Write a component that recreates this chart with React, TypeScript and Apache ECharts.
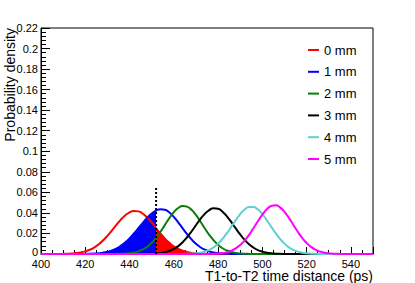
import React, { useEffect, useRef } from "react";
import * as echarts from "echarts";

// sample positions (ps)
const xs = [
  400, 402, 404, 406, 408, 410, 412, 414, 416, 418, 420, 422, 424, 426, 428, 430, 432, 434, 436, 438,
  440, 442, 444, 446, 448, 450, 452, 454, 456, 458, 460, 462, 464, 466, 468, 470, 472, 474, 476, 478,
  480, 482, 484, 486, 488, 490, 492, 494, 496, 498, 500, 502, 504, 506, 508, 510, 512, 514, 516, 518,
  520, 522, 524, 526, 528, 530, 532, 534, 536, 538, 540, 542, 544, 546, 548, 550,
];

const seriesNames = ["0 mm", "1 mm", "2 mm", "3 mm", "4 mm", "5 mm"];
const seriesColors = ["#ff0000", "#0000ff", "#0a7d0a", "#000000", "#5fcfcf", "#ff00ff"];

const mm0 = [
  0.000002, 0.000005, 0.000011, 0.000026, 0.000058, 0.00012, 0.00024, 0.00047, 0.00086, 0.00151,
  0.00255, 0.0041, 0.0063, 0.0093, 0.0131, 0.0177, 0.0228, 0.0281, 0.0332, 0.0375,
  0.0406, 0.0419, 0.0415, 0.0392, 0.0355, 0.0307, 0.0250, 0.0198, 0.015, 0.0109,
  0.0075, 0.005, 0.0031, 0.0019, 0.0011, 0.0006, 0.00032, 0.00016, 0.00008, 0.00004,
  0.00002, 0, 0, 0, 0, 0, 0, 0, 0, 0,
  0, 0, 0, 0, 0, 0, 0, 0, 0, 0,
  0, 0, 0, 0, 0, 0, 0, 0, 0, 0,
  0, 0, 0, 0, 0, 0,
];

const mm1 = [
  0, 0, 0, 0, 0, 0, 0.000005, 0.00001, 0.00003, 0.00006,
  0.00011, 0.00022, 0.00042, 0.00075, 0.0013, 0.0022, 0.0035, 0.0053, 0.0079, 0.0112,
  0.0152, 0.02, 0.0251, 0.0304, 0.0353, 0.0394, 0.0423, 0.0435, 0.043, 0.0404,
  0.0362, 0.0308, 0.025, 0.0193, 0.0142, 0.0099, 0.0066, 0.0042, 0.0025, 0.0014,
  0.0008, 0.0004, 0.0002, 0.0001, 0.00004, 0.00002, 0, 0, 0, 0,
  0, 0, 0, 0, 0, 0, 0, 0, 0, 0,
  0, 0, 0, 0, 0, 0, 0, 0, 0, 0,
  0, 0, 0, 0, 0, 0,
];

const mm2 = [
  0, 0, 0, 0, 0, 0, 0, 0, 0, 0,
  0, 0, 0, 0, 0.000005, 0.000012, 0.00003, 0.000075, 0.00017, 0.00036,
  0.00074, 0.0014, 0.0026, 0.0044, 0.0071, 0.0109, 0.0159, 0.0218, 0.0284, 0.0349,
  0.0407, 0.0448, 0.0467, 0.0461, 0.043, 0.038, 0.0317, 0.0251, 0.0187, 0.0133,
  0.0089, 0.0056, 0.0034, 0.0019, 0.001, 0.0005, 0.00025, 0.00011, 0.00005, 0.00002,
  0, 0, 0, 0, 0, 0, 0, 0, 0, 0,
  0, 0, 0, 0, 0, 0, 0, 0, 0, 0,
  0, 0, 0, 0, 0, 0,
];

const mm3 = [
  0, 0, 0, 0, 0, 0, 0, 0, 0, 0,
  0, 0, 0, 0, 0, 0, 0, 0, 0, 0,
  0.000003, 0.000008, 0.00002, 0.00005, 0.00011, 0.00024, 0.00048, 0.00093, 0.0017, 0.003,
  0.0049, 0.0077, 0.0115, 0.0163, 0.0219, 0.028, 0.034, 0.0391, 0.0428, 0.0445,
  0.044, 0.0412, 0.0367, 0.031, 0.0249, 0.019, 0.0138, 0.0095, 0.0062, 0.0038,
  0.0023, 0.0013, 0.00067, 0.00034, 0.00016, 0.00007, 0.00003, 0, 0, 0,
  0, 0, 0, 0, 0, 0, 0, 0, 0, 0,
  0, 0, 0, 0, 0, 0,
];

const mm4 = [
  0, 0, 0, 0, 0, 0, 0, 0, 0, 0,
  0, 0, 0, 0, 0, 0, 0, 0, 0, 0,
  0, 0, 0, 0, 0, 0, 0, 0, 0, 0.000004,
  0.000012, 0.00003, 0.00007, 0.00016, 0.00033, 0.00068, 0.0013, 0.0023, 0.004, 0.0065,
  0.0101, 0.0147, 0.0203, 0.0266, 0.033, 0.0389, 0.0433, 0.0457, 0.0457, 0.0433,
  0.0389, 0.033, 0.0266, 0.0203, 0.0147, 0.0101, 0.0065, 0.004, 0.0023, 0.0013,
  0.00068, 0.00033, 0.00016, 0.00007, 0.00003, 0.000012, 0, 0, 0, 0,
  0, 0, 0, 0, 0, 0,
];

const mm5 = [
  0, 0, 0, 0, 0, 0, 0, 0, 0, 0,
  0, 0, 0, 0, 0, 0, 0, 0, 0, 0,
  0, 0, 0, 0, 0, 0, 0, 0, 0, 0,
  0, 0, 0, 0, 0, 0.000006, 0.000017, 0.00004, 0.0001, 0.00022,
  0.00047, 0.00095, 0.0018, 0.0032, 0.0054, 0.0087, 0.0131, 0.0186, 0.0251, 0.0319,
  0.0383, 0.0435, 0.0467, 0.0474, 0.0454, 0.0411, 0.0352, 0.0285, 0.0217, 0.0157,
  0.0107, 0.0069, 0.0042, 0.0024, 0.0013, 0.00068, 0.00033, 0.00015, 0.00006, 0.00003,
  0.00001, 0, 0, 0, 0, 0,
];

const curves = [mm0, mm1, mm2, mm3, mm4, mm5];

// cut position and height of the dotted marker line
const cutX = 452;
const cutTop = 0.066;

const FONT = '"Liberation Sans", Arial, Helvetica, sans-serif';

export default function App() {
  const ref = useRef<HTMLDivElement>(null);

  useEffect(() => {
    const chart = echarts.init(ref.current!, null, { renderer: "svg" });
    const pairs = (ys: number[]) => xs.map((x, i) => [x, ys[i]]);
    const blueFill = pairs(mm1).filter((p) => p[0] <= cutX);
    const redFill = pairs(mm0).filter((p) => p[0] >= cutX);

    const lineSeries = curves.map((ys, k) => ({
      name: seriesNames[k],
      type: "line",
      data: pairs(ys),
      symbol: "none",
      smooth: true,
      color: seriesColors[k],
      lineStyle: { color: seriesColors[k], width: 2 },
      z: 3 + k * 0.01,
    }));

    const option: any = {
      animation: false,
      grid: {
        left: 41,
        right: 42,
        top: 28,
        bottom: 29,
        show: true,
        borderColor: "#000",
        borderWidth: 1,
        backgroundColor: "transparent",
      },
      legend: {
        data: seriesNames,
        orient: "vertical",
        left: 303,
        top: 38,
        icon: "rect",
        itemWidth: 11,
        itemHeight: 2,
        itemGap: 7.8,
        textStyle: { fontSize: 13, fontFamily: FONT, color: "#000", lineHeight: 14 },
      },
      xAxis: {
        type: "value",
        min: 400,
        max: 550,
        interval: 20,
        axisLine: { lineStyle: { color: "#000", width: 1 } },
        axisTick: { inside: true, length: 7, lineStyle: { color: "#000" } },
        minorTick: { show: true, splitNumber: 4, length: 4, lineStyle: { color: "#000" } },
        splitLine: { show: false },
        axisLabel: {
          margin: 4,
          fontSize: 11,
          lineHeight: 11,
          fontFamily: FONT,
          color: "#000",
          showMaxLabel: false,
        },
      },
      yAxis: {
        type: "value",
        min: 0,
        max: 0.22,
        interval: 0.02,
        axisLine: { show: true, lineStyle: { color: "#000", width: 1 } },
        axisTick: { inside: true, length: 9, lineStyle: { color: "#000" } },
        minorTick: { show: true, splitNumber: 5, length: 5, lineStyle: { color: "#000" } },
        splitLine: { show: false },
        axisLabel: {
          margin: 3,
          fontSize: 11,
          lineHeight: 10,
          fontFamily: FONT,
          color: "#000",
          formatter: (v: number) => (v === 0 ? "{z|0}" : String(+v.toFixed(2))),
          rich: {
            z: { fontSize: 11, lineHeight: 10, fontFamily: FONT, color: "#000", padding: [0, 0, 5, 0] },
          },
        },
      },
      series: [
        {
          name: "fill-1mm",
          type: "line",
          data: blueFill,
          symbol: "none",
          smooth: true,
          lineStyle: { width: 0 },
          areaStyle: { color: "#0000ff", opacity: 1 },
          silent: true,
          z: 2,
        },
        {
          name: "fill-0mm",
          type: "line",
          data: redFill,
          symbol: "none",
          smooth: true,
          lineStyle: { width: 0 },
          areaStyle: { color: "#ff0000", opacity: 1 },
          silent: true,
          z: 2,
        },
        ...lineSeries,
        {
          name: "cut",
          type: "line",
          data: [
            [cutX, 0],
            [cutX, cutTop],
          ],
          symbol: "none",
          lineStyle: { color: "#000", width: 2, type: [2, 2] },
          silent: true,
          z: 5,
        },
      ],
      graphic: [
        {
          type: "text",
          x: 10,
          y: 28,
          rotation: Math.PI / 2,
          style: {
            text: "Probability density",
            fontSize: 14,
            fontFamily: FONT,
            fill: "#000",
            align: "right",
            verticalAlign: "middle",
          },
        },
        {
          type: "text",
          x: 373,
          y: 276,
          style: {
            text: "T1-to-T2 time distance (ps)",
            fontSize: 14,
            lineHeight: 14,
            fontFamily: FONT,
            fill: "#000",
            align: "right",
            verticalAlign: "middle",
          },
        },
      ],
    };

    chart.setOption(option);
    return () => chart.dispose();
  }, []);

  return (
    <div
      ref={ref}
      style={{ position: "fixed", left: 0, top: 0, width: 415, height: 283, background: "#fff" }}
    />
  );
}
